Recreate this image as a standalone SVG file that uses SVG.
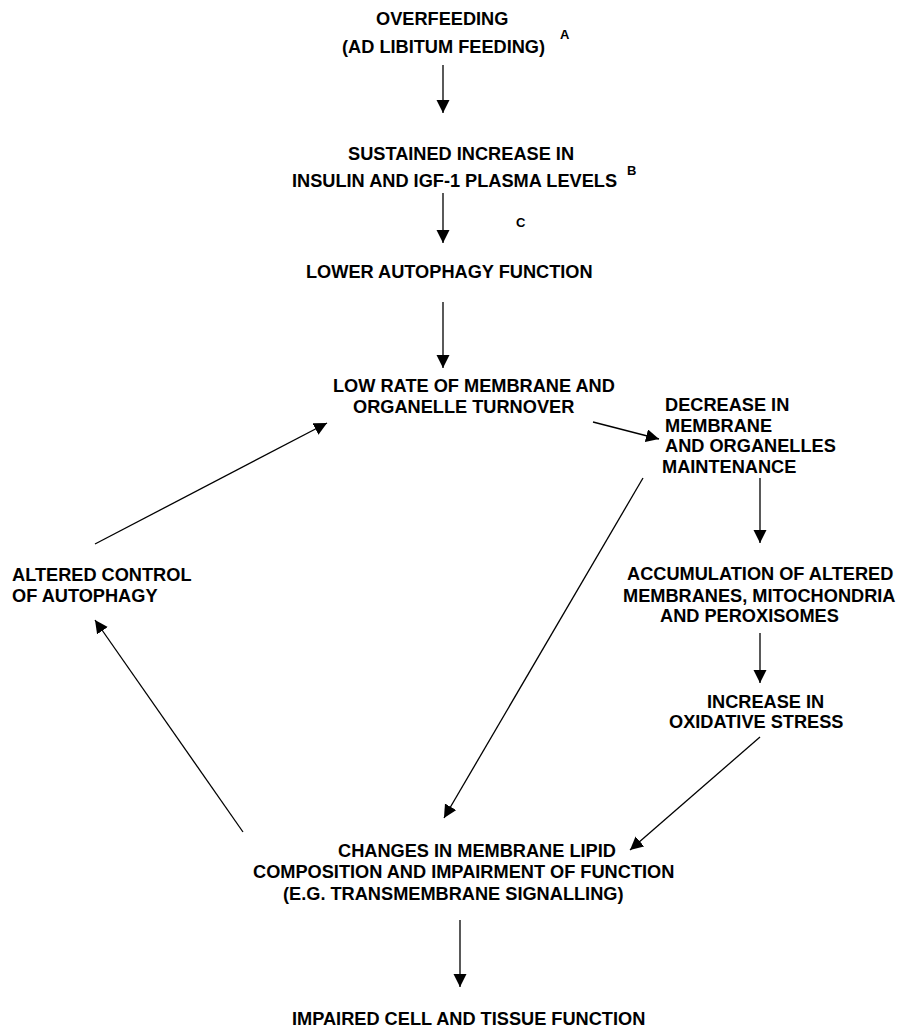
<svg xmlns="http://www.w3.org/2000/svg" width="901" height="1029" viewBox="0 0 901 1029">
<style>
text{font-family:"Liberation Sans",Arial,sans-serif;font-weight:bold;font-size:18.2px;fill:#000}
.sup{font-size:13px}
.c{stroke:#000;stroke-width:1.3;fill:none;marker-end:url(#ah)}
</style>
<defs>
<marker id="ah" markerUnits="userSpaceOnUse" markerWidth="14" markerHeight="14" refX="13" refY="6.5" orient="auto">
<path d="M0,0 L13,6.5 L0,13 z" fill="#000"/>
</marker>
</defs>
<rect width="901" height="1029" fill="#fff"/>
<g id="connectors">
<line class="c" x1="443" y1="65" x2="443" y2="113"/>
<line class="c" x1="443" y1="193" x2="443" y2="243"/>
<line class="c" x1="443" y1="302" x2="443" y2="368"/>
<line class="c" x1="593" y1="422" x2="659" y2="439"/>
<line class="c" x1="760" y1="478" x2="760" y2="543"/>
<line class="c" x1="760" y1="633" x2="760" y2="683"/>
<line class="c" x1="760" y1="737" x2="630" y2="850"/>
<line class="c" x1="643" y1="478" x2="444" y2="818"/>
<line class="c" x1="243" y1="832" x2="95" y2="620"/>
<line class="c" x1="95" y1="544" x2="327" y2="423"/>
<line class="c" x1="460" y1="920" x2="460" y2="987"/>
</g>
<g id="overfeeding">
<text x="376" y="25">OVERFEEDING</text>
<text x="342" y="53">(AD LIBITUM FEEDING)</text>
<text class="sup" x="560" y="39">A</text>
</g>
<g id="insulin">
<text x="348" y="160">SUSTAINED INCREASE IN</text>
<text x="292" y="187">INSULIN AND IGF-1 PLASMA LEVELS</text>
<text class="sup" x="627" y="175">B</text>
</g>
<g id="label-c">
<text class="sup" x="516" y="227">C</text>
</g>
<g id="lower-autophagy">
<text x="306" y="278">LOWER AUTOPHAGY FUNCTION</text>
</g>
<g id="low-rate">
<text x="333" y="392">LOW RATE OF MEMBRANE AND</text>
<text x="353" y="413">ORGANELLE TURNOVER</text>
</g>
<g id="decrease">
<text x="665" y="411">DECREASE IN</text>
<text x="665" y="432">MEMBRANE</text>
<text x="665" y="452">AND ORGANELLES</text>
<text x="662" y="473">MAINTENANCE</text>
</g>
<g id="accumulation">
<text x="627" y="580">ACCUMULATION OF ALTERED</text>
<text x="623" y="602">MEMBRANES, MITOCHONDRIA</text>
<text x="660" y="622">AND PEROXISOMES</text>
</g>
<g id="oxidative">
<text x="707" y="708">INCREASE IN</text>
<text x="669" y="728">OXIDATIVE STRESS</text>
</g>
<g id="altered-control">
<text x="12" y="581">ALTERED CONTROL</text>
<text x="12" y="602">OF AUTOPHAGY</text>
</g>
<g id="changes">
<text x="338" y="857">CHANGES IN MEMBRANE LIPID</text>
<text x="253" y="878">COMPOSITION AND IMPAIRMENT OF FUNCTION</text>
<text x="283" y="900">(E.G. TRANSMEMBRANE SIGNALLING)</text>
</g>
<g id="impaired">
<text x="292" y="1025">IMPAIRED CELL AND TISSUE FUNCTION</text>
</g>
</svg>
